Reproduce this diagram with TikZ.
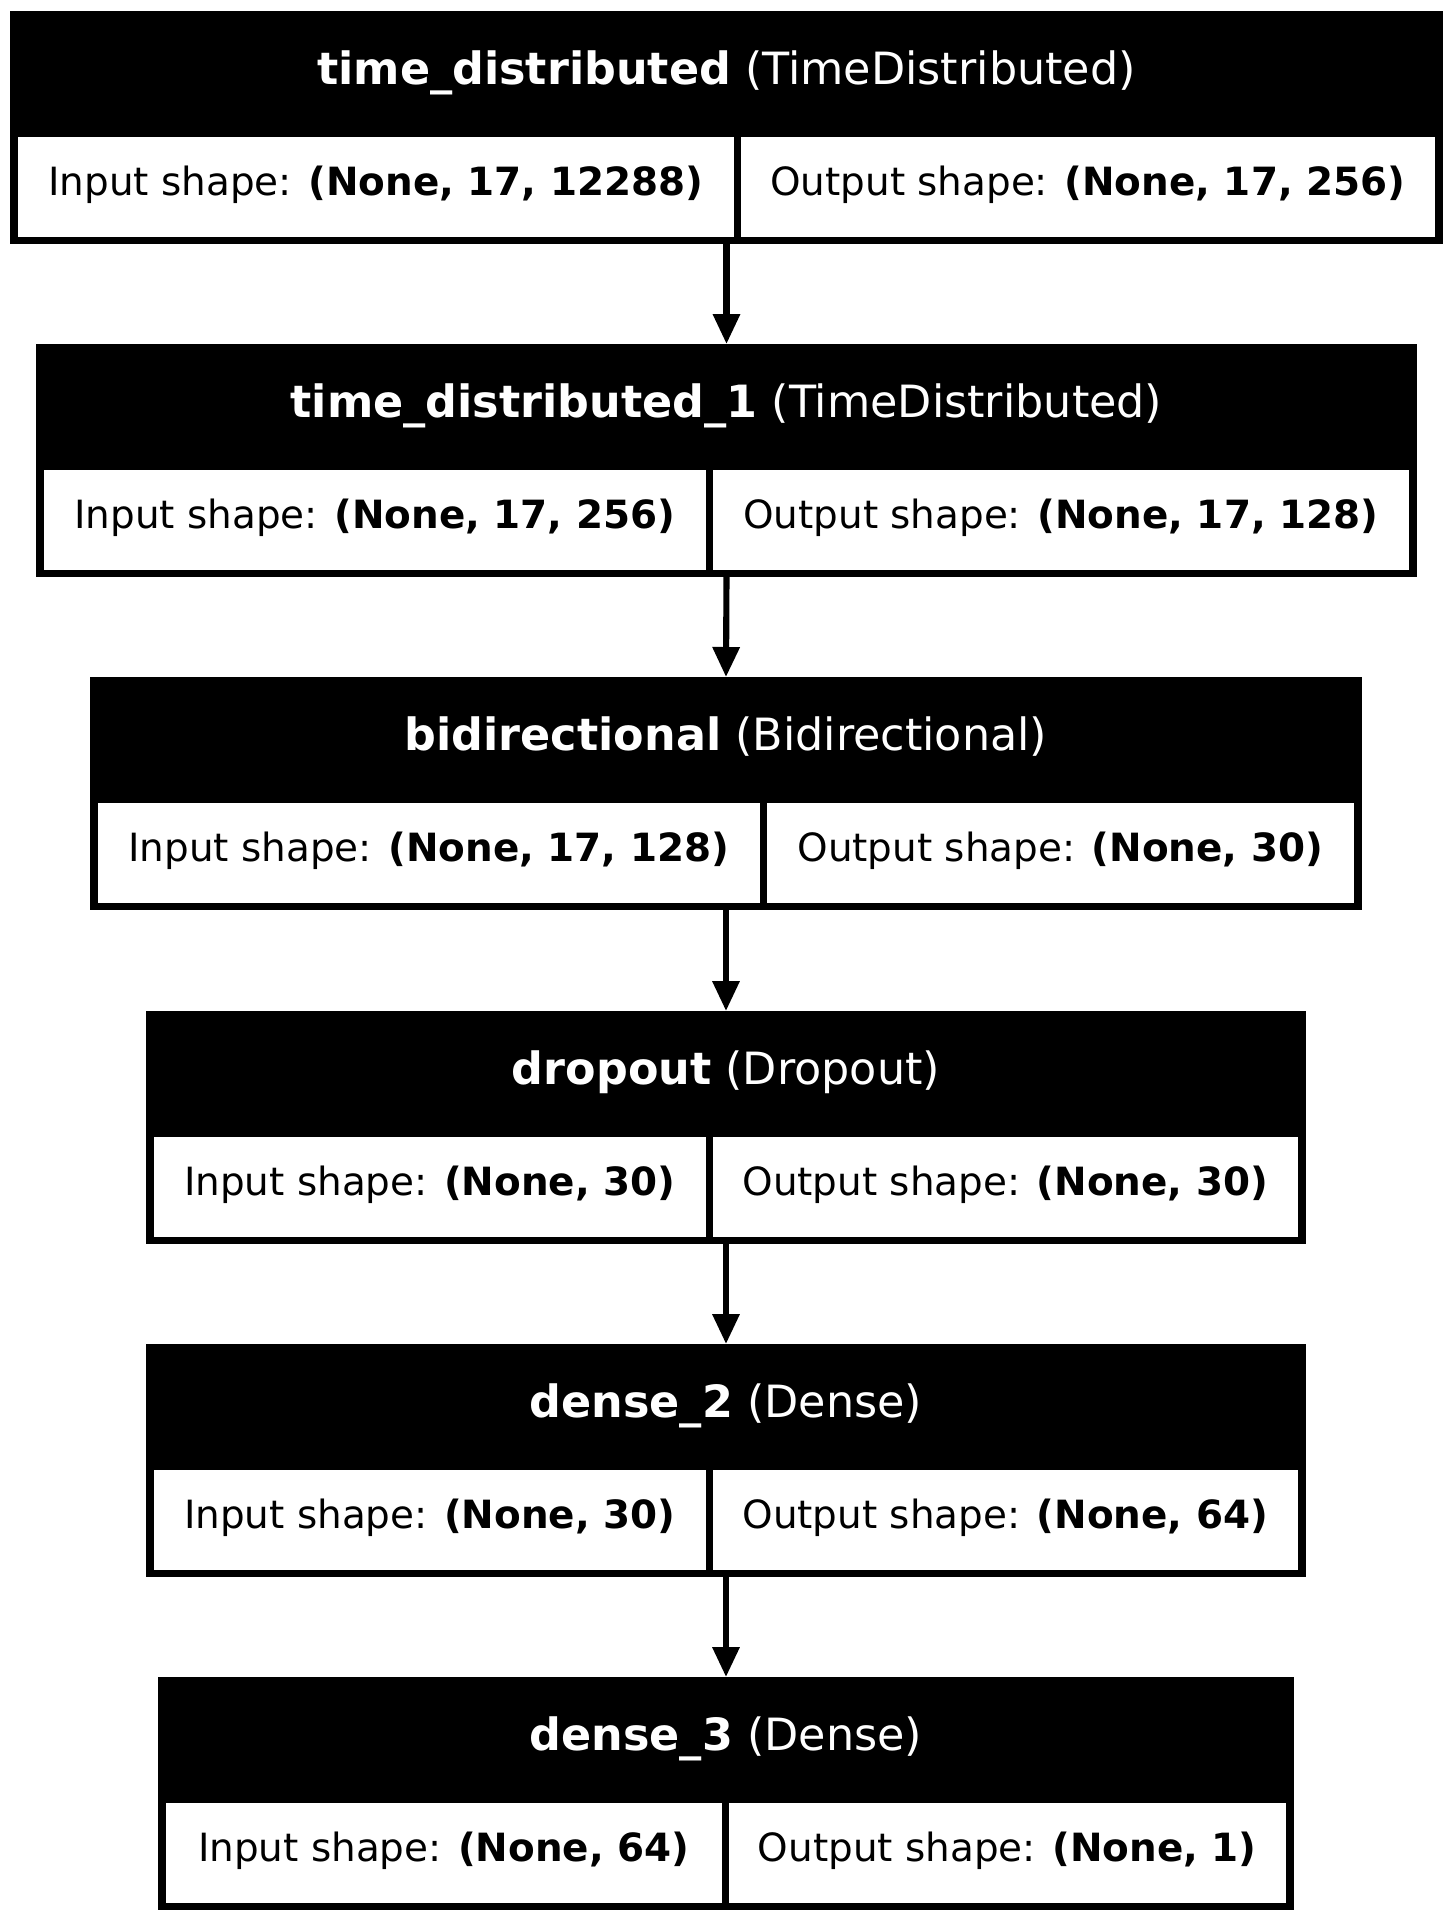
\documentclass[tikz,border=0pt]{standalone}
\usepackage{fontspec}
\setmainfont{DejaVu Sans}
\usetikzlibrary{arrows.meta}
\tikzset{
  layer/.style={fill=black, inner sep=0pt, outer sep=0pt, minimum height=83.88pt},
  cellbox/.style={fill=white, inner sep=0pt, outer sep=0pt, minimum height=36pt},
  headtext/.style={text=white, inner sep=0pt, font=\fontsize{16}{19}\selectfont},
  celltext/.style={text=black, inner sep=0pt, font=\fontsize{14}{17}\selectfont},
  flow/.style={line width=2.2pt, -{Triangle[length=10.8pt,width=9.4pt]}}
}
% #1 name, #2 x1, #3 x2, #4 top, #5 divider, #6 layer name, #7 class, #8 input, #9 output
\newcommand\layerbox[9]{%
  \pgfmathsetmacro\bw{(#3-#2)*0.36}%
  \pgfmathsetmacro\bcx{(#2+#3)/2}%
  \pgfmathsetmacro\lw{(#5-3.5-#2-8)*0.36}%
  \pgfmathsetmacro\rw{(#3-8-#5-3.5)*0.36}%
  \pgfmathsetmacro\lc{(#2+8+#5-3.5)/2}%
  \pgfmathsetmacro\rc{(#5+3.5+#3-8)/2}%
  \node[layer, minimum width=\bw pt, anchor=north] (#1) at (\bcx,#4) {};
  \node[headtext, anchor=base] (#1-h) at (\bcx,#4+73) {\textbf{#6} (#7)};
  \node[cellbox, minimum width=\lw pt, anchor=north west] (#1-in) at (#2+8,#4+126) {};
  \node[cellbox, minimum width=\rw pt, anchor=north east] (#1-out) at (#3-8,#4+126) {};
  \node[celltext, anchor=base] (#1-int) at (\lc,#4+184) {Input shape: \textbf{#8}};
  \node[celltext, anchor=base] (#1-outt) at (\rc,#4+184) {Output shape: \textbf{#9}};
}
\begin{document}
\begin{tikzpicture}[x=0.36pt,y=-0.36pt]
\useasboundingbox (0,0) rectangle (1453,1922);
\fill[white] (0,0) rectangle (1453,1922);
\layerbox{b1}{10}{1443}{11}{737}{time\_distributed}{TimeDistributed}{(None, 17, 12288)}{(None, 17, 256)}
\layerbox{b2}{36}{1417}{344}{709}{time\_distributed\_1}{TimeDistributed}{(None, 17, 256)}{(None, 17, 128)}
\layerbox{b3}{90}{1362}{677}{763}{bidirectional}{Bidirectional}{(None, 17, 128)}{(None, 30)}
\layerbox{b4}{146}{1306}{1011}{709}{dropout}{Dropout}{(None, 30)}{(None, 30)}
\layerbox{b5}{146}{1306}{1344}{709}{dense\_2}{Dense}{(None, 30)}{(None, 64)}
\layerbox{b6}{158}{1294}{1677}{725}{dense\_3}{Dense}{(None, 64)}{(None, 1)}
\draw[flow] (b1.south) -- (b2.north);
\draw[flow] (b2.south) -- (b3.north);
\draw[flow] (b3.south) -- (b4.north);
\draw[flow] (b4.south) -- (b5.north);
\draw[flow] (b5.south) -- (b6.north);
\end{tikzpicture}
\end{document}
